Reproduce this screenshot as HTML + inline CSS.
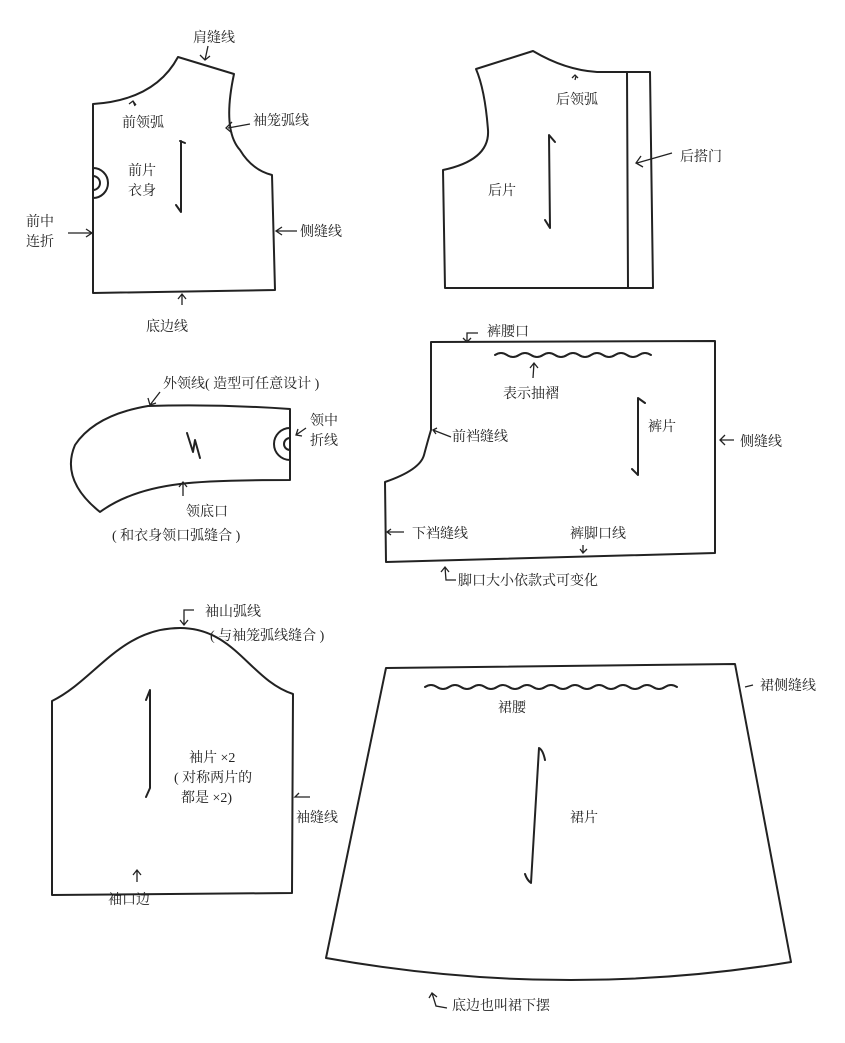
<!DOCTYPE html>
<html><head><meta charset="utf-8"><style>
html,body{margin:0;padding:0;background:#fff}
svg{display:block}
text{font-family:"Liberation Serif","Noto Serif CJK SC","Noto Sans CJK SC",serif;font-size:14px;fill:#222}
</style></head><body>
<svg width="845" height="1043" viewBox="0 0 845 1043" xmlns="http://www.w3.org/2000/svg">
<rect width="845" height="1043" fill="#fff"/>
<g fill="none" stroke="#222" stroke-width="2" stroke-linecap="round" stroke-linejoin="round">
<!-- front bodice -->
<path d="M93,104 Q155,100 178,57 L234,74 Q222,130 240,150 Q252,170 272,175 L275,290 L93,293 Z"/>
<path d="M93,168 A15,15 0 0 1 93,198"/>
<path d="M93,176 A7,7 0 0 1 93,190"/>
<path d="M185,143 L180,141 M181,141 L181,212 L176,205"/>
<!-- back bodice -->
<path d="M476,69 L533,51 Q565,70 597,72 L650,72 L653,288 L445,288 L443,170 Q490,160 488,130 Q485,90 476,69 Z"/>
<path d="M627,72 L628,288"/>
<path d="M555,142 L549,135 L550,228 L545,220"/>
<!-- collar -->
<path d="M148,406 Q220,404 290,409 L290,480 Q210,480 180,484 Q130,490 100,512 Q60,480 75,445 Q95,415 148,406 Z"/>
<path d="M290,428 A16,16 0 0 0 290,460"/>
<path d="M290,438 A6,6 0 0 0 290,450"/>
<path d="M187,433 L193,452 L195,440 L200,458"/>
<!-- pants -->
<path d="M431,342 L715,341 L715,553 Q550,557 386,562 L385,482 Q420,470 424,455 Q428,440 431,430 Z"/>
<path d="M495,355 q6,-4 12,0 t12,0 t12,0 t12,0 t12,0 t12,0 t12,0 t12,0 t12,0 t12,0 t12,0 t12,0 t12,0"/>
<path d="M645,403 L638,398 L638,475 L632,469"/>
<!-- sleeve -->
<path d="M52,701 C95,680 120,628 180,628 C235,628 250,680 293,694 L292,893 L52,895 Z"/>
<path d="M146,700 L150,690 L150,788 L146,797"/>
<!-- skirt -->
<path d="M386,668 L735,664 L791,962 Q560,1000 326,958 Z"/>
<path d="M425,687 q6,-4 12,0 t12,0 t12,0 t12,0 t12,0 t12,0 t12,0 t12,0 t12,0 t12,0 t12,0 t12,0 t12,0 t12,0 t12,0 t12,0 t12,0 t12,0 t12,0 t12,0 t12,0"/>
<path d="M545,760 Q543,750 539,748 L531,883 Q527,880 525,874"/>
</g>
<g fill="none" stroke="#222" stroke-width="1.3">
<path d="M208,46 L205,60 M200,55 L205,60 L210,56"/>
<path d="M135,106 L133,101 M129,104 L133,101 L136,105"/>
<path d="M250,124 L228,128 M232,122 L226,128 L232,133"/>
<path d="M68,233 L91,233 M86,229 L92,233 L86,237"/>
<path d="M297,231 L277,231 M282,227 L276,231 L282,235"/>
<path d="M182,305 L182,294 M178,299 L182,294 L186,299"/>
<path d="M576,76 L575,80 M572,78 L575,75 L578,78"/>
<path d="M672,153 L637,163 M641,156 L636,163 L643,167"/>
<path d="M160,392 L150,405 M148,398 L150,405 L156,403"/>
<path d="M306,428 L296,435 M298,429 L296,435 L302,436"/>
<path d="M183,496 L183,482 M179,487 L183,482 L187,487"/>
<path d="M478,333 L467,333 L467,342 M463,338 L467,342 L471,338"/>
<path d="M533,378 L534,363 M530,368 L534,363 L538,368"/>
<path d="M451,437 L433,430 M437,428 L433,430 L436,434"/>
<path d="M734,440 L720,440 M725,435 L720,440 L725,445"/>
<path d="M404,532 L387,532 M391,529 L387,532 L391,535"/>
<path d="M583,545 L583,553 M580,549 L583,553 L587,549"/>
<path d="M456,580 L446,580 L445,567 M441,572 L445,567 L449,572"/>
<path d="M194,610 L184,610 L184,625 M180,620 L184,625 L188,620"/>
<path d="M753,685 L745,687"/>
<path d="M310,797 L295,797 L299,793"/>
<path d="M137,882 L137,870 M133,875 L137,870 L141,875"/>
<path d="M447,1008 L436,1006 L432,993 M429,998 L432,993 L437,997"/>
</g>
<text x="193" y="42">肩缝线</text>
<text x="122" y="127">前领弧</text>
<text x="253" y="125">袖笼弧线</text>
<text x="128" y="175">前片</text>
<text x="128" y="195">衣身</text>
<text x="26" y="226">前中</text>
<text x="26" y="246">连折</text>
<text x="300" y="236">侧缝线</text>
<text x="146" y="331">底边线</text>
<text x="556" y="104">后领弧</text>
<text x="680" y="161">后搭门</text>
<text x="488" y="195">后片</text>
<text x="163" y="388">外领线( 造型可任意设计 )</text>
<text x="310" y="425">领中</text>
<text x="310" y="445">折线</text>
<text x="186" y="516">领底口</text>
<text x="112" y="540">( 和衣身领口弧缝合 )</text>
<text x="487" y="336">裤腰口</text>
<text x="503" y="398">表示抽褶</text>
<text x="452" y="441">前裆缝线</text>
<text x="648" y="431">裤片</text>
<text x="740" y="446">侧缝线</text>
<text x="412" y="538">下裆缝线</text>
<text x="570" y="538">裤脚口线</text>
<text x="458" y="585">脚口大小依款式可变化</text>
<text x="205" y="616">袖山弧线</text>
<text x="210" y="640">( 与袖笼弧线缝合 )</text>
<text x="760" y="690">裙侧缝线</text>
<text x="498" y="712">裙腰</text>
<text x="189" y="762">袖片 ×2</text>
<text x="174" y="782">( 对称两片的</text>
<text x="181" y="802">都是 ×2)</text>
<text x="296" y="822">袖缝线</text>
<text x="570" y="822">裙片</text>
<text x="108" y="904">袖口边</text>
<text x="452" y="1010">底边也叫裙下摆</text>
</svg>
</body></html>
